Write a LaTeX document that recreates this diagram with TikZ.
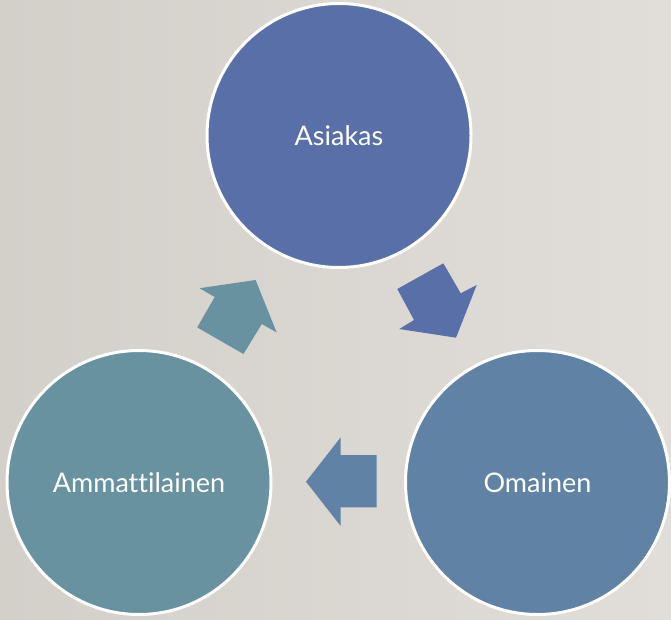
\documentclass[tikz,border=0pt]{standalone}
\usepackage{fontspec}
\setmainfont[Ligatures=CommonOff]{Lato}
\definecolor{bgL}{HTML}{D3D0CA}
\definecolor{bgR}{HTML}{E1DED9}
\definecolor{cA}{HTML}{586FA7}
\definecolor{cO}{HTML}{5F82A5}
\definecolor{cM}{HTML}{6892A0}
\begin{document}
\begin{tikzpicture}[x=1pt,y=-1pt,
  ring/.style={circle,draw=white,line width=3pt,minimum size=264pt,inner sep=0pt,
    text=white,font=\fontsize{27}{32}\selectfont},
  blockarrow/.style={draw=none}]
\shade[left color=bgL,right color=bgR] (0,0) rectangle (671,620);
\useasboundingbox (0,0) rectangle (671,620);
\node[ring,fill=cA] (asiakas) at (339,135.5) {Asiakas};
\node[ring,fill=cO] (omainen) at (537.5,482.5) {Omainen};
\node[ring,fill=cM] (ammatti) at (139,482.5) {Ammattilainen};
\fill[cM] (199.5,288.2) -- (255.6,280) -- (276.7,332.5) -- (261.8,324) -- (243.5,354) -- (197.2,327.4) -- (214.7,297) -- cycle;
\fill[cA] (397.3,289) -- (443.3,263.3) -- (460.7,293.3) -- (476.7,285) -- (456,337.7) -- (399.3,329) -- (414,320) -- cycle;
\fill[cO] (306,481.7) -- (340.7,437.3) -- (340.7,455) -- (376.7,455) -- (376.7,507.3) -- (340.7,507.3) -- (340.7,526) -- cycle;
\end{tikzpicture}
\end{document}
